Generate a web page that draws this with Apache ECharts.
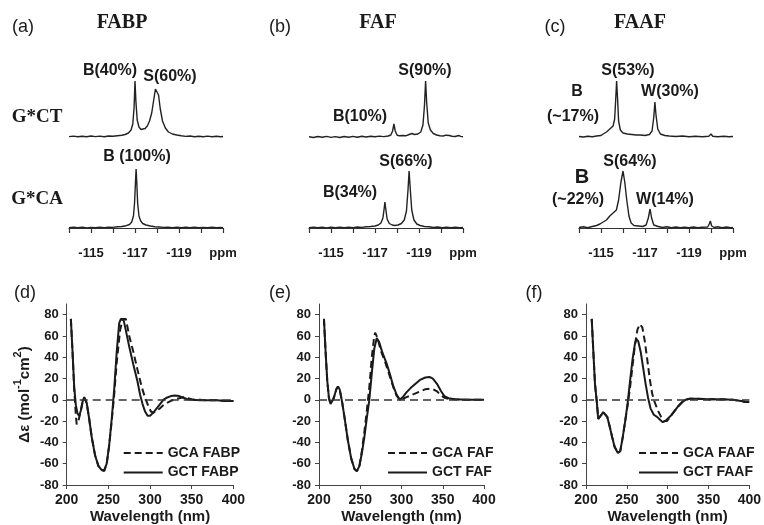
<!DOCTYPE html>
<html><head><meta charset="utf-8">
<script src="https://cdn.jsdelivr.net/npm/echarts@6/dist/echarts.min.js"></script>
<style>html,body{margin:0;padding:0;background:#fff}#c{width:764px;height:525px}</style>
</head><body><div id="c"></div>
<script>
// ---------- 19F NMR spectra: [ppm, intensity (a.u.)] ----------
var nmrFABP_GCT = [[-114,0.4],[-114.2,0.9],[-114.4,0.2],[-114.6,0.8],[-114.8,0.3],[-115.0,1],[-115.2,0.4],[-115.4,0.9],[-115.6,0.3],[-115.8,1],[-116.0,0.8],[-116.2,1.3],[-116.4,1.8],[-116.55,2.5],[-116.7,4],[-116.82,7],[-116.9,13],[-116.96,30],[-117.0,56],[-117.04,36],[-117.1,17],[-117.18,10],[-117.27,7.5],[-117.36,7],[-117.46,8.5],[-117.56,11],[-117.66,16],[-117.76,24],[-117.85,37],[-117.93,48],[-118.0,50],[-118.07,42],[-118.15,28],[-118.25,16],[-118.38,9],[-118.52,5],[-118.7,3],[-118.9,2],[-119.1,1.2],[-119.3,0.6],[-119.5,1],[-119.7,0.3],[-119.9,0.8],[-120.1,0.2],[-120.3,0.9],[-120.5,0.3],[-120.7,0.7],[-120.9,0.2],[-121,0.5]];
var nmrFABP_GCA = [[-114,0.3],[-114.2,0.8],[-114.4,0.2],[-114.6,0.7],[-114.8,0.1],[-115.0,0.6],[-115.2,0.3],[-115.4,0.8],[-115.6,0.4],[-115.8,0.9],[-116.0,0.6],[-116.2,1.2],[-116.4,1.5],[-116.6,2.3],[-116.75,3.5],[-116.85,6],[-116.93,12],[-116.98,25],[-117.02,45],[-117.05,59],[-117.08,46],[-117.12,25],[-117.18,12],[-117.26,7],[-117.35,4.5],[-117.5,3],[-117.7,2],[-117.9,1.3],[-118.1,1],[-118.3,0.6],[-118.5,0.9],[-118.7,0.3],[-118.9,0.8],[-119.1,0.2],[-119.3,0.7],[-119.5,0.3],[-119.7,0.9],[-119.9,0.2],[-120.1,0.6],[-120.3,0.2],[-120.5,0.8],[-120.7,0.3],[-120.9,0.6],[-121,0.2]];
var nmrFAF_GCT = [[-114,0.2],[-114.2,-0.5],[-114.4,0.5],[-114.6,-0.3],[-114.8,0.6],[-115.0,-0.4],[-115.2,0.4],[-115.4,-0.5],[-115.6,0.5],[-115.8,-0.2],[-116.0,0.6],[-116.2,-0.3],[-116.4,0.7],[-116.6,0],[-116.8,0.8],[-117.0,0.2],[-117.2,0.9],[-117.4,0.4],[-117.6,1],[-117.72,2],[-117.8,6],[-117.86,13],[-117.92,6],[-118.0,2],[-118.1,1.2],[-118.25,1.5],[-118.4,1.2],[-118.55,2.5],[-118.68,3.5],[-118.8,2.5],[-118.95,3],[-119.08,5],[-119.18,12],[-119.25,32],[-119.3,56],[-119.35,34],[-119.42,14],[-119.52,7],[-119.65,3.5],[-119.8,2],[-119.95,1.2],[-120.1,1],[-120.22,1.8],[-120.3,3],[-120.38,1.5],[-120.5,0.8],[-120.65,0.5],[-120.8,1.5],[-120.9,0.6],[-121,0.3]];
var nmrFAF_GCA = [[-114,0.3],[-114.2,0.9],[-114.4,0.2],[-114.6,0.7],[-114.8,0.1],[-115.0,0.8],[-115.2,0.3],[-115.4,0.9],[-115.6,0.2],[-115.8,0.7],[-116.0,0.3],[-116.2,1],[-116.4,0.6],[-116.6,1.2],[-116.8,1.5],[-117.0,2],[-117.15,3],[-117.27,5],[-117.36,10],[-117.42,20],[-117.45,26],[-117.49,19],[-117.55,9],[-117.65,4.5],[-117.78,3],[-117.9,2.5],[-118.05,3],[-118.2,4.5],[-118.33,8],[-118.43,17],[-118.5,38],[-118.55,57],[-118.6,40],[-118.67,18],[-118.77,8],[-118.9,4],[-119.05,2.5],[-119.25,1.5],[-119.45,1.2],[-119.65,0.5],[-119.85,1],[-120.05,0.3],[-120.25,0.8],[-120.45,0.2],[-120.65,0.7],[-120.85,0.3],[-121,0.5]];
var nmrFAAF_GCT = [[-114,0.5],[-114.2,0],[-114.4,0.8],[-114.6,0.3],[-114.8,1],[-115.0,1.5],[-115.1,3],[-115.25,5],[-115.35,7],[-115.45,9],[-115.55,11],[-115.62,18],[-115.67,38],[-115.71,56],[-115.75,40],[-115.8,16],[-115.88,7],[-116.0,4],[-116.2,3],[-116.4,2.5],[-116.6,2],[-116.8,2],[-117.0,1.5],[-117.2,2.5],[-117.32,6],[-117.4,20],[-117.45,35],[-117.5,22],[-117.58,8],[-117.7,3],[-117.9,1.5],[-118.1,1],[-118.4,0.5],[-118.7,1],[-119.0,0.3],[-119.3,0.8],[-119.6,0.2],[-119.9,0.8],[-120.0,3],[-120.08,0.8],[-120.3,0.3],[-120.6,0.8],[-120.8,0.2],[-121,0.5]];
var nmrFAAF_GCA = [[-114,0.5],[-114.2,1.2],[-114.4,0.3],[-114.6,1.5],[-114.8,2.5],[-114.95,4],[-115.1,6],[-115.25,8],[-115.4,12],[-115.55,15],[-115.7,18],[-115.8,28],[-115.9,45],[-116.0,57],[-116.08,46],[-116.17,28],[-116.27,12],[-116.37,5],[-116.5,2.5],[-116.7,2],[-116.9,1.5],[-117.05,3],[-117.15,10],[-117.23,19],[-117.3,10],[-117.4,3],[-117.6,1.5],[-117.8,0.5],[-118.0,1.2],[-118.2,0.3],[-118.4,1],[-118.6,0.2],[-118.8,0.9],[-119.0,0.2],[-119.2,1],[-119.4,0.3],[-119.6,0.8],[-119.85,1],[-119.92,4],[-119.97,7],[-120.03,2],[-120.15,0.5],[-120.3,1.3],[-120.5,0.3],[-120.7,1],[-120.9,0.3],[-121,0.6]];

// ---------- CD spectra: [wavelength nm, Δε] ----------
var cdGCA_FABP = [[205,76],[207,45],[209,10],[211,-15],[212,-23],[214,-20],[217,-10],[219,-2],[221,2],[222,3],[224,-3],[227,-18],[230,-35],[234,-52],[238,-62],[242,-66],[245,-67],[248,-60],[251,-43],[254,-20],[257,5],[260,35],[264,65],[267,76],[271,76],[275,60],[280,45],[285,28],[290,12],[294,2],[298,-6],[301,-11],[304,-12],[308,-10],[312,-8],[316,-5],[320,-3],[325,-1],[330,0.5],[335,1.5],[340,2.5],[345,1.5],[350,0.5],[360,0],[370,-0.5],[380,-0.5],[390,-1],[400,-1]];
var cdGCT_FABP = [[205,76],[207,45],[209,12],[211,-5],[213,-13],[215,-15],[217,-10],[219,-2],[221,2.5],[222,3],[224,-3],[227,-18],[230,-35],[234,-52],[238,-62],[242,-66],[245,-66],[248,-60],[251,-42],[254,-18],[257,10],[260,45],[263,72],[265,76],[268,76],[271,65],[275,50],[280,33],[285,17],[288,5],[291,-4],[294,-11],[297,-15],[300,-15],[304,-12],[308,-8],[312,-4],[316,0],[320,2],[325,3.5],[330,4],[335,3.5],[340,2],[345,0.5],[350,0],[360,-0.5],[370,-0.5],[380,-0.5],[390,-1],[400,-1]];
var cdGCA_FAF = [[206,76],[208,45],[210,18],[212,2],[214,-4],[216,-4],[218,2],[221,10],[223,12.5],[225,10],[228,-2],[231,-17],[235,-38],[239,-55],[243,-65],[246,-67],[249,-62],[252,-48],[255,-30],[258,-10],[261,12],[264,40],[267,60],[268,63],[271,58],[275,46],[280,36],[285,24],[290,12],[294,4],[298,0],[302,1],[306,2.5],[311,4],[317,6],[323,8],[329,10],[334,10.5],[338,10],[343,8],[348,4],[352,2],[357,1],[365,0.5],[380,0],[400,0]];
var cdGCT_FAF = [[206,76],[208,45],[210,18],[212,2],[214,-4],[216,-4],[218,2],[221,10],[223,12.5],[225,10],[228,-2],[231,-17],[235,-38],[239,-55],[243,-65],[246,-67],[249,-62],[252,-50],[255,-35],[258,-17],[261,0],[264,25],[267,48],[270,58],[273,54],[277,44],[282,34],[286,24],[290,13],[294,5],[298,0],[302,3],[306,7],[311,11],[317,15],[323,19],[329,21],[334,21.5],[338,20],[343,15],[348,8],[352,3.5],[357,1.5],[365,0.5],[380,0],[400,0]];
var cdGCA_FAAF = [[207,76],[209,45],[211,15],[213,0],[215,-18],[217,-19],[219,-14],[221,-11.5],[223,-12],[226,-16],[229,-25],[232,-35],[235,-44],[239,-50],[242,-48],[245,-35],[248,-20],[251,-5],[254,12],[257,32],[260,52],[263,66],[266,71],[269,68],[272,55],[275,38],[278,20],[281,6],[284,-2],[288,-10],[292,-16],[296,-20],[299,-20],[302,-17],[305,-14],[309,-10],[313,-6],[318,-2],[322,0],[327,1],[335,1],[350,0.5],[365,0.5],[380,0],[390,-1],[395,-2],[400,-2]];
var cdGCT_FAAF = [[207,76],[209,45],[211,15],[213,0],[215,-18],[217,-19],[219,-14],[221,-11.5],[223,-12],[226,-16],[229,-25],[232,-35],[235,-44],[239,-50],[242,-48],[245,-35],[248,-20],[251,-3],[254,18],[257,38],[260,53],[262,57],[264,55],[267,45],[270,30],[273,15],[276,2],[279,-8],[283,-14],[287,-16],[291,-19],[294,-21],[297,-20],[301,-17],[305,-14],[309,-10],[313,-6],[318,-2],[322,0],[327,1],[335,1],[350,0.5],[365,0.5],[380,0],[390,-1],[395,-2],[400,-2]];

// ---------- tick labels ----------
var ppmTickLabels = {'-115':'-115','-117':'-117','-119':'-119','-121':'ppm'};
var cdYTicks = [-80,-60,-40,-20,0,20,40,60,80];
var cdNames = [['GCA FABP','GCT FABP'],['GCA FAF','GCT FAF'],['GCA FAAF','GCT FAAF']];

// ---------- layout ----------
var INK = '#1a1a1a';
var SANS = '"Liberation Sans", Arial, sans-serif';
var SERIF = '"Liberation Serif", "Times New Roman", serif';
var nmrLeft = [69, 309, 579];
var cdGrid = [{left:66.7,width:166.7},{left:319,width:165},{left:586,width:164}];

var grids = [], xAxes = [], yAxes = [], series = [], legends = [];
var nmrData = [[nmrFABP_GCT, nmrFABP_GCA],[nmrFAF_GCT, nmrFAF_GCA],[nmrFAAF_GCT, nmrFAAF_GCA]];

for (var p = 0; p < 3; p++) {
  for (var r = 0; r < 2; r++) {
    var gi = grids.length;
    var lower = r === 1;
    grids.push(lower ? {left:nmrLeft[p], width:154, top:168, height:70} : {left:nmrLeft[p], width:154, top:77, height:63});
    xAxes.push({
      gridIndex: gi, type:'value', min:-121, max:-114, interval:1, inverse:true, show: lower,
      axisLine:{show:true, lineStyle:{color:'#333', width:1.2}},
      axisTick:{show:true, length:5, lineStyle:{color:'#333', width:1.2}},
      splitLine:{show:false},
      axisLabel:{show:true, margin:9, color:INK, fontFamily:SANS, fontWeight:'bold', fontSize:13,
        formatter:function(v){ return ppmTickLabels[String(Math.round(v))] || ''; }}
    });
    yAxes.push({gridIndex: gi, type:'value', min: lower ? -10 : -3, max:60, show:false, splitLine:{show:false}});
    series.push({type:'line', xAxisIndex:gi, yAxisIndex:gi, data:nmrData[p][r], symbol:'none',
      lineStyle:{color:'#222', width:1.4}, silent:true, animation:false});
  }
}

var cdData = [[cdGCA_FABP, cdGCT_FABP],[cdGCA_FAF, cdGCT_FAF],[cdGCA_FAAF, cdGCT_FAAF]];
for (var q = 0; q < 3; q++) {
  var g = grids.length;
  grids.push({left:cdGrid[q].left, width:cdGrid[q].width, top:304, height:181});
  xAxes.push({
    gridIndex:g, type:'value', min:200, max:400, interval:50,
    name: 'Wavelength (nm)', nameLocation:'middle', nameGap:24,
    nameTextStyle:{color:INK, fontFamily:SANS, fontWeight:'bold', fontSize:15},
    axisLine:{show:true, onZero:false, lineStyle:{color:'#444', width:1}},
    axisTick:{show:true, length:4, lineStyle:{color:'#444'}},
    splitLine:{show:false},
    axisLabel:{margin:8, color:INK, fontFamily:SANS, fontWeight:'bold', fontSize:14}
  });
  yAxes.push({
    gridIndex:g, type:'value', min:-80, max:90,
    name: q === 0 ? '{t|Δε (mol}{s|-1}{t|cm}{s|2}{t|)}' : '', nameLocation:'middle', nameGap:34,
    nameTextStyle:{color:INK, fontFamily:SANS, fontWeight:'bold', fontSize:15,
      rich:{t:{fontFamily:SANS, fontWeight:'bold', fontSize:15, lineHeight:20, verticalAlign:'bottom', color:INK},
            s:{fontFamily:SANS, fontWeight:'bold', fontSize:11, lineHeight:20, verticalAlign:'top', color:INK}}},
    axisLine:{show:true, lineStyle:{color:'#444', width:1}},
    axisTick:{show:true, length:4, customValues:cdYTicks, lineStyle:{color:'#444'}},
    splitLine:{show:false},
    axisLabel:{margin:8, customValues:cdYTicks, color:INK, fontFamily:SANS, fontWeight:'bold', fontSize:13}
  });
  series.push({type:'line', name:cdNames[q][0], xAxisIndex:g, yAxisIndex:g, data:cdData[q][0], symbol:'none',
    lineStyle:{color:INK, width:2, type:[7,4]}, itemStyle:{color:INK}, z:3, animation:false,
    markLine:{silent:true, symbol:['none','none'], label:{show:false}, animation:false,
      lineStyle:{color:'#333', width:1.5, type:[8,5]}, data:[{yAxis:0}]}});
  series.push({type:'line', name:cdNames[q][1], xAxisIndex:g, yAxisIndex:g, data:cdData[q][1], symbol:'none',
    lineStyle:{color:INK, width:2, type:'solid'}, itemStyle:{color:INK}, z:4, animation:false});
  legends.push({data:cdNames[q], orient:'vertical', left: cdGrid[q].left + [56,68,52][q], top:446, padding:0,
    itemWidth:39, itemHeight:14, itemGap:5.5, selectedMode:false,
    itemStyle:{opacity:0},
    textStyle:{color:INK, fontFamily:SANS, fontWeight:'bold', fontSize:14, padding:[0,0,0,0]}});
}

// ---------- annotations ----------
function T(text, x, y, size, opts) {
  opts = opts || {};
  var font = (opts.weight || 'bold') + ' ' + size + 'px ' + (opts.serif ? SERIF : SANS);
  return {type:'text', x:x, y:y, silent:true, z:100,
    style:{text:text, font:font, fill:INK, textAlign:'center', textVerticalAlign:'middle', align:'center', verticalAlign:'middle'}};
}
var graphics = [
  T('(a)', 23, 27, 18, {weight:'normal'}), T('FABP', 122, 23, 20, {serif:true}),
  T('(b)', 280, 27, 18, {weight:'normal'}), T('FAF', 378, 23, 20, {serif:true}),
  T('(c)', 555, 27, 18, {weight:'normal'}), T('FAAF', 640, 23, 20, {serif:true}),
  T('G*CT', 37, 117, 19, {serif:true}), T('G*CA', 37, 199, 19, {serif:true}),
  T('B(40%)', 110, 71, 16), T('S(60%)', 170, 77, 16), T('B (100%)', 137, 157, 16),
  T('S(90%)', 425, 71, 16), T('B(10%)', 360, 117, 16), T('S(66%)', 406, 162, 16), T('B(34%)', 350, 193, 16),
  T('S(53%)', 628, 71, 16), T('B', 577, 92, 16), T('(~17%)', 573, 117, 16), T('W(30%)', 670, 92, 16),
  T('S(64%)', 630, 162, 16), T('B', 582, 177, 20), T('(~22%)', 578, 200, 16), T('W(14%)', 665, 200, 16),
  T('(d)', 25, 293, 18, {weight:'normal'}), T('(e)', 280, 293, 18, {weight:'normal'}), T('(f)', 534, 293, 18, {weight:'normal'})
];

var chart = echarts.init(document.getElementById('c'), null, {renderer:'canvas'});
chart.setOption({
  animation:false,
  backgroundColor:'#fff',
  grid:grids, xAxis:xAxes, yAxis:yAxes, series:series, legend:legends,
  graphic:graphics
});
</script>
</body></html>
